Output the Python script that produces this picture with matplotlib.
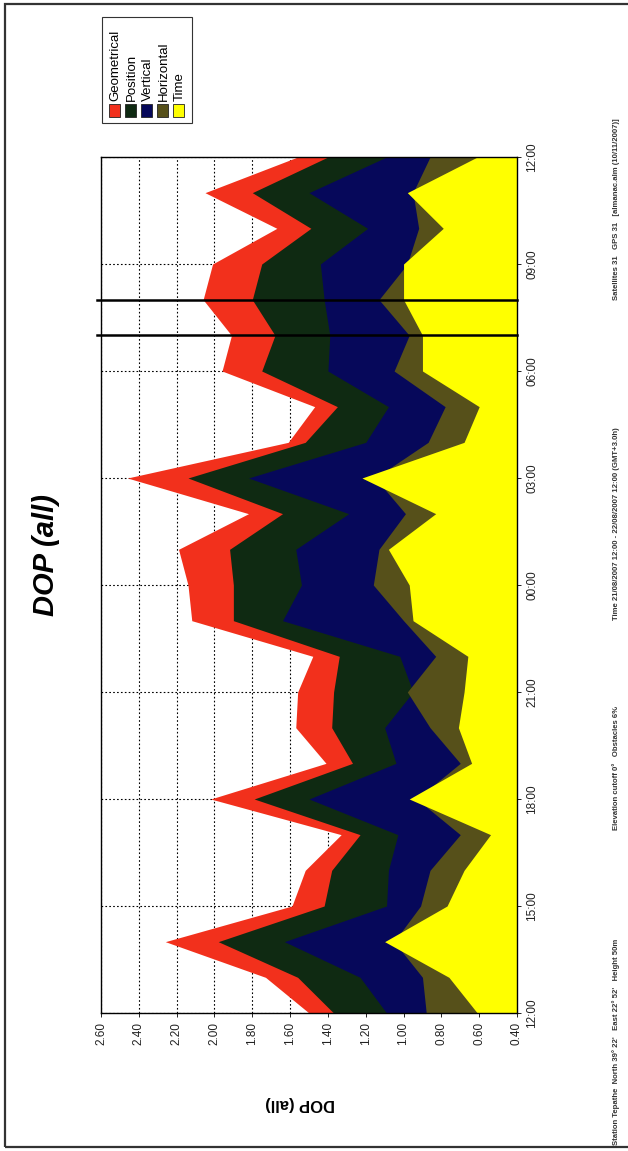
import numpy as np
import matplotlib.pyplot as plt
from matplotlib.patches import Rectangle

plt.rcParams['font.family'] = ['Liberation Sans', 'DejaVu Sans']

# hourly DOP values, 21/08/2007 12:00 -> 22/08/2007 12:00
hours = list(range(25))
time_labels = ['12:00', '15:00', '18:00', '21:00', '00:00', '03:00', '06:00', '09:00', '12:00']
geometrical = [1.50, 1.73, 2.26, 1.59, 1.52, 1.33, 2.02, 1.41, 1.57, 1.56, 1.48, 2.12, 2.14,
               2.19, 1.82, 2.46, 1.61, 1.47, 1.96, 1.91, 2.06, 2.01, 1.67, 2.05, 1.56]
position = [1.37, 1.56, 1.98, 1.42, 1.38, 1.23, 1.79, 1.27, 1.38, 1.37, 1.34, 1.90, 1.90,
            1.92, 1.64, 2.14, 1.52, 1.35, 1.75, 1.68, 1.80, 1.75, 1.49, 1.80, 1.40]
vertical = [1.09, 1.23, 1.63, 1.09, 1.08, 1.03, 1.50, 1.04, 1.10, 0.95, 1.02, 1.64, 1.54,
            1.57, 1.29, 1.82, 1.20, 1.08, 1.40, 1.39, 1.42, 1.44, 1.19, 1.50, 1.09]
horizontal = [0.88, 0.90, 1.05, 0.91, 0.86, 0.70, 0.93, 0.70, 0.86, 0.98, 0.83, 1.00, 1.16,
              1.13, 0.99, 1.15, 0.87, 0.78, 1.05, 0.97, 1.13, 0.98, 0.92, 0.95, 0.86]
time_dop = [0.61, 0.76, 1.10, 0.77, 0.68, 0.54, 0.97, 0.64, 0.71, 0.68, 0.66, 0.95, 0.97,
            1.08, 0.83, 1.22, 0.68, 0.60, 0.90, 0.90, 1.00, 1.00, 0.79, 0.98, 0.61]
markers = [19, 20]  # 07:00 and 08:00

names = ['Geometrical', 'Position', 'Vertical', 'Horizontal', 'Time']
series = [geometrical, position, vertical, horizontal, time_dop]
colors = ['#f2301c', '#0f2a12', '#06085a', '#56501a', '#ffff00']

W, H = 628, 1151
fig = plt.figure(figsize=(W / 100, H / 100), dpi=100)

# page frame
fig.patches.append(Rectangle((5 / W, 4 / H), 1.0, 1 - 8 / H, transform=fig.transFigure,
                             fill=False, ec='#333333', lw=1.6))

ax = fig.add_axes([101 / W, 1 - 1013 / H, 416 / W, 856 / H])
for vals, c in zip(series, colors):
    ax.fill_betweenx(hours, 0.4, vals, color=c, lw=0, zorder=2)
for m in markers:
    ax.axhline(m, color='k', lw=1.8, zorder=3, xmin=-0.01, clip_on=False)

ax.set_xlim(2.6, 0.4)
ax.set_ylim(0, 24)
ax.set_axisbelow(True)
ax.grid(True, color='k', ls=(0, (1.5, 2)), lw=0.8)

xt = np.arange(0.4, 2.61, 0.2)
ax.set_xticks(xt)
ax.set_xticklabels(['%.2f' % v for v in xt], rotation=90, fontsize=8.5, color='#222222')
ax.set_yticks(range(0, 25, 3))
ax.set_yticklabels(time_labels, rotation=90, va='center', fontsize=8.5, color='#222222')
ax.yaxis.tick_right()
ax.tick_params(length=3, width=0.6)
for s in ax.spines.values():
    s.set_linewidth(1.0)

# title sits on the left (chart is turned a quarter turn)
fig.text(46 / W, 1 - 555 / H, 'DOP (all)', rotation=90, ha='center', va='center',
         fontsize=21, fontweight='bold', fontstyle='italic')
fig.text(300 / W, 1 - 1103 / H, 'DOP (all)', rotation=180, ha='center', va='center',
         fontsize=12, fontweight='bold')

# footer lines (rotated)
foot = [(1145, "Station Tepathe  North 39\u00b0 22'   East 22\u00b0 52'   Height 50m"),
        (830, "Elevation cutoff 0\u00b0   Obstacles 6%"),
        (620, "Time 21/08/2007 12:00 - 22/08/2007 12:00 (GMT+3.0h)"),
        (300, "Satellites 31   GPS 31   [almanac.alm (10/11/2007)]")]
for y0, txt in foot:
    fig.text(616 / W, 1 - y0 / H, txt, rotation=90, rotation_mode='anchor',
             ha='left', va='center', fontsize=5.6, fontweight='bold', color='#333333')

# legend box (rotated)
lx0, lx1, ly0, ly1 = 102, 192, 17, 123
fig.patches.append(Rectangle((lx0 / W, 1 - ly1 / H), (lx1 - lx0) / W, (ly1 - ly0) / H,
                             transform=fig.transFigure, fill=False, ec='#333333', lw=0.8))
for i, (n, c) in enumerate(zip(names, colors)):
    cx = 114.5 + i * 16
    fig.patches.append(Rectangle(((cx - 5.5) / W, 1 - 117 / H), 11 / W, 13 / H,
                                 transform=fig.transFigure, fc=c, ec='#222222', lw=0.6))
    fig.text((cx + 1) / W, 1 - 101 / H, n, rotation=90, rotation_mode='anchor',
             ha='left', va='center', fontsize=9.5)

fig.savefig('out.png', dpi=100)
